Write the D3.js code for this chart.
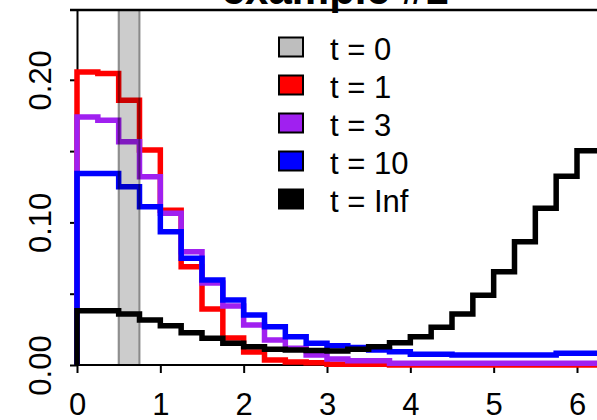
<!DOCTYPE html>
<html>
<head>
<meta charset="utf-8">
<script src="https://cdn.jsdelivr.net/npm/d3@7"></script>
<style>
  body { margin: 0; background: #fff; }
  svg { display: block; font-family: Arial, "Liberation Sans", sans-serif; }
</style>
</head>
<body>
<div id="chart"></div>
<script>
// bin width 0.25, bins start at 0
var binWidth = 0.25;
var seriesNames = ["t = 1", "t = 3", "t = 10", "t = Inf"];
var seriesColors = ["#ff0000", "#a020f0", "#0000ff", "#000000"];
var redVals = [0.2055, 0.2044, 0.1857, 0.1507, 0.1086, 0.0689, 0.0392, 0.0189, 0.0091, 0.0035,
  0.0021, 0.0016, 0.0005, 0.0005, 0.0005, 0, 0, 0, 0, 0, 0, 0, 0, 0, 0];
var purpleVals = [0.174, 0.1717, 0.1565, 0.132, 0.1065, 0.0794, 0.0575, 0.0413, 0.028, 0.0175,
  0.0117, 0.007, 0.0042, 0.003, 0.003, 0.0012, 0.0012, 0.0012, 0.0012, 0.0012, 0.0012, 0.0012, 0.0012, 0.0012, 0.0012];
var blueVals = [0.1343, 0.1343, 0.125, 0.111, 0.0934, 0.0748, 0.0596, 0.0456, 0.035, 0.0268,
  0.0198, 0.0152, 0.0135, 0.0123, 0.0105, 0.0093, 0.0075, 0.0075, 0.007, 0.007, 0.007, 0.007, 0.007, 0.0082, 0.0082];
var blackVals = [0.038, 0.038, 0.0357, 0.0315, 0.0275, 0.0226, 0.0187, 0.0152, 0.0128, 0.011,
  0.0105, 0.0102, 0.0098, 0.011, 0.0128, 0.0156, 0.0198, 0.0264, 0.0357, 0.049, 0.0654, 0.0864, 0.11, 0.1324, 0.1502];
var xTicks = [0, 1, 2, 3, 4, 5, 6];
var yTicks = [0, 0.05, 0.10, 0.15, 0.20];
var yLabelTicks = [0, 0.10, 0.20];
var band = [0.5, 0.75];
var legendLabels = ["t = 0", "t = 1", "t = 3", "t = 10", "t = Inf"];
var legendColors = ["#bebebe", "#ff0000", "#a020f0", "#0000ff", "#000000"];
var title = "example #1";

var W = 597, H = 420;
var svg = d3.select("#chart").append("svg").attr("width", W).attr("height", H);

var x = d3.scaleLinear().domain([0, 6.24]).range([77, 597]);
var y = d3.scaleLinear().domain([0, 0.25]).range([365, 8.5]);

// title (mostly cut off at top)
svg.append("text").attr("x", 335).attr("y", 4).attr("text-anchor", "middle")
  .style("font-size", "42px").style("font-weight", "bold").text(title);

// top frame line
svg.append("line").attr("x1", 70).attr("x2", W).attr("y1", 10).attr("y2", 10)
  .attr("stroke", "#000").attr("stroke-width", 2.5);

// axes
var xAxis = svg.append("g").attr("transform", "translate(0," + y(0) + ")")
  .call(d3.axisBottom(x).tickValues(xTicks).tickSize(8).tickSizeOuter(0).tickFormat(d3.format("d")));
xAxis.select(".domain").attr("d", "M" + x(0) + ",0H" + W);
xAxis.selectAll("line").attr("stroke-width", 2);
xAxis.select(".domain").attr("stroke-width", 2);
xAxis.selectAll("text").attr("y", 0).attr("dy", 0).attr("transform", "translate(0,50)")
  .style("font-size", "31px").attr("fill", "#000");

var yAxis = svg.append("g").attr("transform", "translate(" + x(0) + ",0)")
  .call(d3.axisLeft(y).tickValues(yTicks).tickSize(7).tickSizeOuter(0)
    .tickFormat(function(d) { return yLabelTicks.some(function(v) { return Math.abs(v - d) < 1e-9; }) ? d3.format(".2f")(d) : ""; }));
yAxis.selectAll("line").attr("stroke-width", 2);
yAxis.select(".domain").attr("stroke-width", 2);
yAxis.selectAll("text").attr("x", 0).attr("dy", 0).attr("text-anchor", "middle")
  .attr("transform", "translate(-26,0) rotate(-90)")
  .style("font-size", "31px").attr("fill", "#000");

// step lines
function stepPoints(vals) {
  var pts = [[0, 0]];
  vals.forEach(function(v, i) {
    pts.push([i * binWidth, v]);
    pts.push([(i + 1) * binWidth, v]);
  });
  return pts;
}
var line = d3.line().x(function(d) { return x(d[0]); }).y(function(d) { return y(d[1]); });
[redVals, purpleVals, blueVals, blackVals].forEach(function(vals, i) {
  svg.append("path").attr("d", line(stepPoints(vals)))
    .attr("fill", "none").attr("stroke", seriesColors[i]).attr("stroke-width", 5.5)
    .attr("stroke-linejoin", "miter").attr("stroke-linecap", "butt");
});

// shaded band on top
svg.append("rect").attr("x", x(band[0])).attr("y", 10)
  .attr("width", x(band[1]) - x(band[0])).attr("height", y(0) - 10)
  .attr("fill", "#000").attr("fill-opacity", 0.2)
  .attr("stroke", "#000").attr("stroke-opacity", 0.4).attr("stroke-width", 2);

// legend
var leg = svg.append("g");
legendLabels.forEach(function(lab, i) {
  var cy = 47 + i * 38;
  leg.append("rect").attr("x", 279).attr("y", cy - 9.5).attr("width", 24).attr("height", 19)
    .attr("fill", legendColors[i]).attr("stroke", "#000").attr("stroke-width", 2);
  leg.append("text").attr("x", 330).attr("y", cy + 13).style("font-size", "31px").text(lab);
});
</script>
</body>
</html>
